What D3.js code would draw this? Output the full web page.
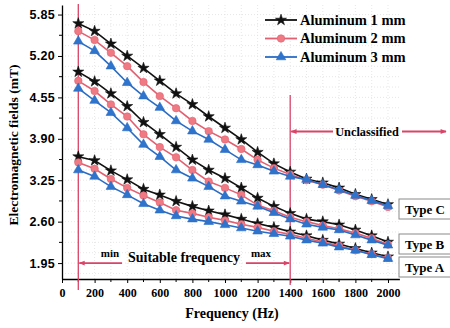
<!DOCTYPE html>
<html>
<head>
<meta charset="utf-8">
<script src="https://cdn.jsdelivr.net/npm/d3@7"></script>
<style>
  html, body { margin: 0; padding: 0; background: #fff; }
  svg { display: block; }
  .serif { font-family: "Liberation Serif", "Times New Roman", serif; font-weight: bold; }
  .sans { font-family: "Liberation Sans", Arial, sans-serif; font-weight: bold; }
</style>
</head>
<body>
<svg id="chart" width="450" height="328"></svg>
<script>
// Measured field vs. frequency for three aluminium thicknesses, grouped by type
const frequencies = [100, 200, 300, 400, 500, 600, 700, 800, 900, 1000,
                     1100, 1200, 1300, 1400, 1500, 1600, 1700, 1800, 1900, 2000];

const yTicks = [1.95, 2.60, 3.25, 3.90, 4.55, 5.20, 5.85];
const xTicks = [0, 200, 400, 600, 800, 1000, 1200, 1400, 1600, 1800, 2000];

const seriesNames = ["Aluminum 1 mm", "Aluminum 2 mm", "Aluminum 3 mm"];
const typeNames = ["Type C", "Type B", "Type A"];

// Type C
const typeC_1mm = [5.71, 5.59, 5.39, 5.20, 5.01, 4.81, 4.61, 4.44, 4.25, 4.07,
                   3.89, 3.69, 3.51, 3.38, 3.27, 3.21, 3.13, 3.03, 2.95, 2.87];
const typeC_2mm = [5.59, 5.45, 5.25, 5.04, 4.79, 4.57, 4.38, 4.18, 4.02, 3.89,
                   3.74, 3.57, 3.44, 3.34, 3.25, 3.18, 3.09, 3.00, 2.92, 2.83];
const typeC_3mm = [5.43, 5.28, 5.04, 4.78, 4.57, 4.39, 4.18, 4.02, 3.89, 3.73,
                   3.57, 3.49, 3.39, 3.31, 3.26, 3.18, 3.10, 3.01, 2.93, 2.85];
// Type B
const typeB_1mm = [4.95, 4.80, 4.61, 4.41, 4.16, 3.97, 3.77, 3.57, 3.41, 3.28,
                   3.13, 2.97, 2.84, 2.73, 2.64, 2.60, 2.55, 2.47, 2.38, 2.28];
const typeB_2mm = [4.81, 4.65, 4.44, 4.25, 3.97, 3.77, 3.61, 3.41, 3.23, 3.13,
                   3.02, 2.86, 2.77, 2.67, 2.60, 2.54, 2.49, 2.42, 2.34, 2.24];
const typeB_3mm = [4.69, 4.50, 4.31, 4.07, 3.81, 3.62, 3.41, 3.28, 3.15, 3.00,
                   2.92, 2.84, 2.74, 2.64, 2.56, 2.51, 2.47, 2.39, 2.31, 2.23];
// Type A
const typeA_1mm = [3.62, 3.56, 3.40, 3.26, 3.11, 3.02, 2.92, 2.84, 2.77, 2.71,
                   2.64, 2.57, 2.51, 2.44, 2.38, 2.31, 2.25, 2.18, 2.11, 2.05];
const typeA_2mm = [3.53, 3.43, 3.27, 3.13, 3.01, 2.90, 2.78, 2.73, 2.67, 2.62,
                   2.56, 2.51, 2.45, 2.40, 2.34, 2.28, 2.22, 2.15, 2.09, 2.03];
const typeA_3mm = [3.41, 3.31, 3.15, 3.02, 2.88, 2.78, 2.69, 2.64, 2.60, 2.55,
                   2.50, 2.45, 2.41, 2.37, 2.31, 2.26, 2.20, 2.15, 2.08, 2.02];

const minFreq = 100, maxFreq = 1400;

const styles = [
  { color: "#111111", fill: "#111111", symbol: d3.symbolStar, size: 38 },
  { color: "#e26070", fill: "#f07a84", symbol: d3.symbolCircle, size: 44 },
  { color: "#2a6cc4", fill: "#2f74cc", symbol: d3.symbolTriangle, size: 40 }
];
const markColor = "#d94468";

const groups = [
  [typeC_1mm, typeC_2mm, typeC_3mm],
  [typeB_1mm, typeB_2mm, typeB_3mm],
  [typeA_1mm, typeA_2mm, typeA_3mm]
];

const svg = d3.select("#chart");
const x = d3.scaleLinear().domain([0, 2070]).range([62, 399.4]);
const y = d3.scaleLinear().domain([1.7, 6.0]).range([279, 5]);

// faint dotted grid
const gridX = d3.range(0, 2070, 100);
const gridY = d3.range(1.7 + 0.0875, 6.0, 0.1625);
const grid = svg.append("g").attr("stroke", "#dcdcdc").attr("stroke-width", 0.7)
  .attr("stroke-dasharray", "1,2");
grid.selectAll("line.gx").data(gridX.slice(1)).join("line").attr("class", "gx")
  .attr("x1", d => x(d)).attr("x2", d => x(d)).attr("y1", 5).attr("y2", 279);
grid.selectAll("line.gy").data(gridY).join("line").attr("class", "gy")
  .attr("x1", 62).attr("x2", 399).attr("y1", d => y(d)).attr("y2", d => y(d));

// axes
const xAxis = d3.axisBottom(x).tickValues(xTicks).tickSize(4).tickSizeOuter(0)
  .tickFormat(d3.format("d"));
const gx = svg.append("g").attr("transform", "translate(0,279)").call(xAxis);
gx.selectAll("text").attr("class", "serif").attr("font-size", 12).attr("dy", "0.95em");
gx.append("g").selectAll("line").data(d3.range(100, 2070, 200)).join("line")
  .attr("x1", d => x(d)).attr("x2", d => x(d)).attr("y1", 0).attr("y2", 3)
  .attr("stroke", "#000");

const yAxis = d3.axisLeft(y).tickValues(yTicks).tickSize(4).tickSizeOuter(0)
  .tickFormat(d3.format(".2f"));
const gy = svg.append("g").attr("transform", "translate(62,0)").call(yAxis);
gy.selectAll("text").attr("class", "sans").attr("font-size", 12.5)
  .attr("x", -7).attr("letter-spacing", "0.3px");
gy.append("g").selectAll("line").data(yTicks.map(v => v + 0.325).filter(v => v < 6))
  .join("line").attr("x1", 0).attr("x2", -3).attr("y1", d => y(d)).attr("y2", d => y(d))
  .attr("stroke", "#000");
svg.selectAll(".domain").attr("stroke-width", 1.3);

// axis titles
svg.append("text").attr("class", "serif").attr("font-size", 14)
  .attr("x", 232).attr("y", 318).attr("text-anchor", "middle").text("Frequency (Hz)");
svg.append("text").attr("class", "serif").attr("font-size", 13.5)
  .attr("transform", "translate(18,145) rotate(-90)").attr("text-anchor", "middle")
  .text("Electromagnetic fields (mT)");

// frequency limits
svg.append("line").attr("x1", x(minFreq)).attr("x2", x(minFreq)).attr("y1", 4).attr("y2", 290)
  .attr("stroke", markColor).attr("stroke-width", 1.3);
svg.append("line").attr("x1", x(maxFreq)).attr("x2", x(maxFreq)).attr("y1", 95).attr("y2", 285)
  .attr("stroke", markColor).attr("stroke-width", 1.3);

const defs = svg.append("defs");
defs.append("marker").attr("id", "head").attr("viewBox", "0 0 10 10")
  .attr("refX", 9).attr("refY", 5).attr("markerWidth", 7).attr("markerHeight", 6)
  .attr("orient", "auto-start-reverse").attr("markerUnits", "userSpaceOnUse")
  .append("path").attr("d", "M0,1 L10,5 L0,9 Z").attr("fill", markColor);

function arrow(x1, x2, yy) {
  svg.append("line").attr("x1", x1).attr("x2", x2).attr("y1", yy).attr("y2", yy)
    .attr("stroke", markColor).attr("stroke-width", 1.8).attr("marker-end", "url(#head)");
}
arrow(122, x(minFreq) + 1, y(1.95));
arrow(246, x(maxFreq) - 1, y(1.95));
arrow(333, x(maxFreq) + 1, 131.5);
arrow(402, 446, 131.5);

svg.append("text").attr("class", "serif").attr("font-size", 11)
  .attr("x", 110).attr("y", 257).attr("text-anchor", "middle").text("min");
svg.append("text").attr("class", "serif").attr("font-size", 11)
  .attr("x", 261).attr("y", 257).attr("text-anchor", "middle").text("max");
svg.append("text").attr("class", "serif").attr("font-size", 14)
  .attr("x", 184).attr("y", 262).attr("text-anchor", "middle").text("Suitable frequency");
svg.append("text").attr("class", "serif").attr("font-size", 12.3)
  .attr("x", 367).attr("y", 135.5).attr("text-anchor", "middle").text("Unclassified");

// series
const line = d3.line().x((d, i) => x(frequencies[i])).y(d => y(d));
groups.forEach(group => {
  group.forEach((values, s) => {
    const st = styles[s];
    const g = svg.append("g");
    g.append("path").datum(values).attr("d", line).attr("fill", "none")
      .attr("stroke", st.color).attr("stroke-width", 1.6);
    g.selectAll("path.m").data(values).join("path").attr("class", "m")
      .attr("d", d3.symbol(st.symbol, st.size))
      .attr("transform", (d, i) => `translate(${x(frequencies[i])},${y(d)})`)
      .attr("fill", st.fill).attr("stroke", st.color).attr("stroke-width", 0.6);
  });
});

// type labels
const typeBoxes = [199, 234, 257];
typeNames.forEach((t, i) => {
  svg.append("rect").attr("x", 399).attr("y", typeBoxes[i]).attr("width", 60).attr("height", 20)
    .attr("fill", "#fff").attr("stroke", "#8a8a8a").attr("stroke-width", 1);
  svg.append("text").attr("class", "serif").attr("font-size", 13)
    .attr("x", 405).attr("y", typeBoxes[i] + 14.5).text(t);
});

// legend
const legendY = [20, 38.5, 57];
seriesNames.forEach((name, i) => {
  const st = styles[i];
  const g = svg.append("g").attr("transform", `translate(265,${legendY[i]})`);
  g.append("line").attr("x1", 0).attr("x2", 32).attr("stroke", st.color).attr("stroke-width", 1.8);
  g.append("path").attr("d", d3.symbol(st.symbol, st.size)).attr("transform", "translate(16,0)")
    .attr("fill", st.fill).attr("stroke", st.color).attr("stroke-width", 0.6);
  g.append("text").attr("class", "serif").attr("font-size", 14.5)
    .attr("x", 35).attr("y", 4.5).text(name);
});
</script>
</body>
</html>
